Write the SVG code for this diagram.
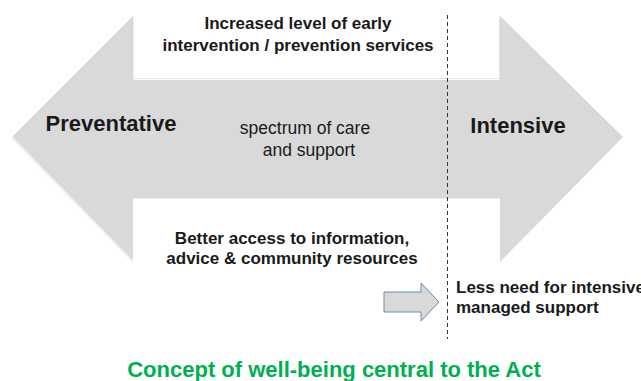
<svg xmlns="http://www.w3.org/2000/svg" width="641" height="381" viewBox="0 0 641 381">
<style>
.t{font-family:"Liberation Sans",Arial,sans-serif;fill:#1a1a1a;text-anchor:middle}
.b{font-weight:bold}
.l{text-anchor:start}
</style>
<rect width="641" height="381" fill="#ffffff"/>
<g id="spectrum-arrow">
<polygon points="12,137 133,16 500,16 623,137 500,262 133,262" fill="#d9d9d9"/>
<polyline points="12,138 133,262" fill="none" stroke="#f4f4f4" stroke-width="2"/>
</g>
<g id="top-box">
<rect x="133" y="16" width="367" height="64" fill="#ffffff"/>
<line x1="133" y1="78.5" x2="500" y2="78.5" stroke="#e6e6e6" stroke-width="1"/>
<line x1="133.5" y1="16" x2="133.5" y2="80" stroke="#ececec" stroke-width="1"/>
<line x1="499.5" y1="16" x2="499.5" y2="80" stroke="#e3e3e3" stroke-width="1"/>
<text class="t b" x="298" y="29" font-size="17">Increased level of early</text>
<text class="t b" x="298" y="51" font-size="17">intervention / prevention services</text>
</g>
<g id="bottom-box">
<rect x="133" y="198" width="367" height="70" fill="#ffffff"/>
<line x1="133" y1="198.5" x2="500" y2="198.5" stroke="#ededed" stroke-width="1"/>
<text class="t b" x="292" y="244" font-size="17">Better access to information,</text>
<text class="t b" x="292" y="264" font-size="17">advice &amp; community resources</text>
</g>
<g id="preventative">
<text class="t b" x="111" y="131" font-size="22">Preventative</text>
</g>
<g id="intensive">
<text class="t b" x="518" y="133" font-size="22">Intensive</text>
</g>
<g id="spectrum-label">
<text class="t" x="305" y="134" font-size="17.5">spectrum of care</text>
<text class="t" x="309" y="156" font-size="17.5">and support</text>
</g>
<g id="connectors">
<line x1="447.5" y1="15" x2="447.5" y2="339" stroke="#333333" stroke-width="1" stroke-dasharray="4,3"/>
</g>
<g id="small-arrow">
<polygon points="384,292 421,292 421,283 439,302 421,321 421,312 384,312" fill="#d9d9d9" stroke="#6a8bb5" stroke-width="1"/>
</g>
<g id="less-need">
<text class="t b l" x="456" y="293" font-size="17">Less need for intensive</text>
<text class="t b l" x="456" y="313" font-size="17">managed support</text>
</g>
<g id="title">
<text class="t b" x="334" y="377" font-size="22" style="fill:#00b050">Concept of well-being central to the Act</text>
</g>
</svg>
